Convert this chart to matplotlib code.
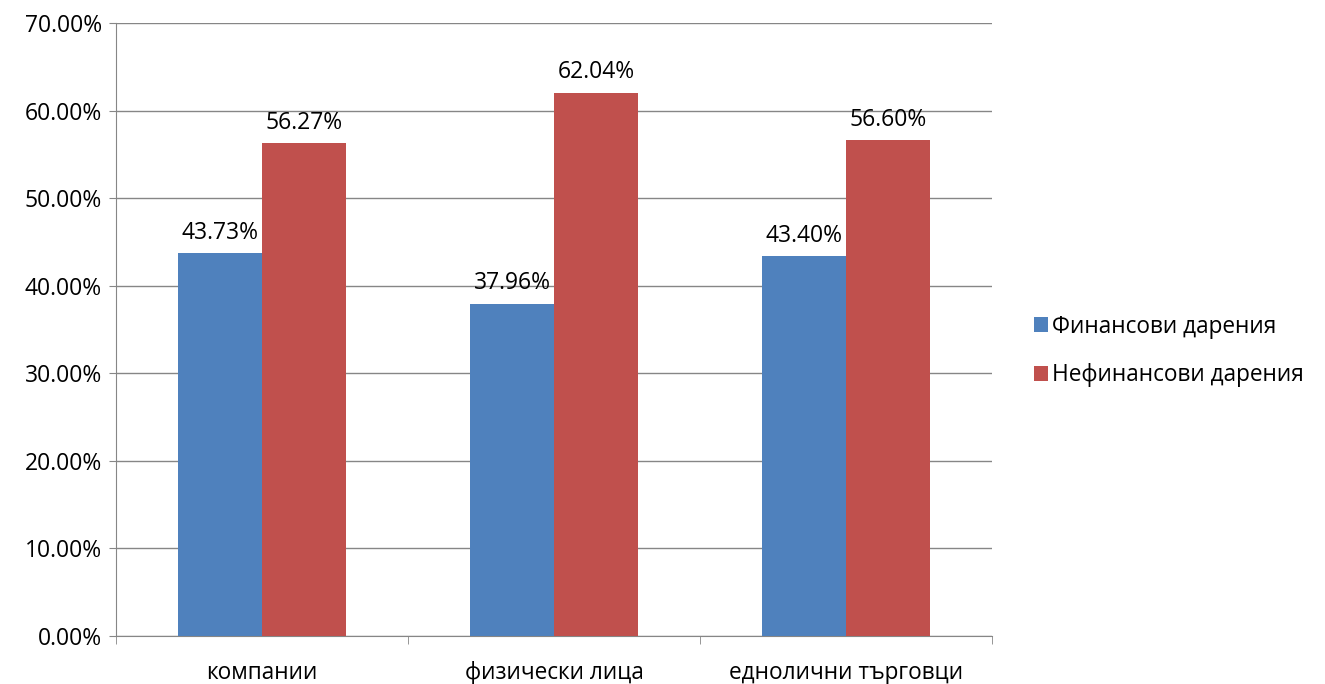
import matplotlib.pyplot as plt
import numpy as np

plt.rcParams['font.family'] = ['Open Sans', 'DejaVu Sans']

# данни
kategorii = ["компании", "физически лица", "еднолични търговци"]
finansovi = [43.73, 37.96, 43.40]
nefinansovi = [56.27, 62.04, 56.60]
serii = ["Финансови дарения", "Нефинансови дарения"]

fig = plt.figure(figsize=(13.25, 6.84), dpi=100)
ax = fig.add_axes([116/1325, 1-636/684, (992-116)/1325, (636-23)/684])

x = np.arange(len(kategorii))
w = 0.288
b1 = ax.bar(x - w/2, finansovi, w, color="#4F81BD", label=serii[0], zorder=3)
b2 = ax.bar(x + w/2, nefinansovi, w, color="#C0504D", label=serii[1], zorder=3)

for bars, vals in [(b1, finansovi), (b2, nefinansovi)]:
    for rect, v in zip(bars, vals):
        ax.annotate(f"{v:.2f}%", (rect.get_x() + rect.get_width()/2, v),
                    xytext=(0, 6), textcoords="offset points",
                    ha="center", va="bottom", fontsize=16.5)

ax.set_xlim(-0.5, 2.5)
ax.set_ylim(0, 70)
ax.set_yticks(np.arange(0, 71, 10))
ax.set_yticklabels([f"{t:.2f}%" for t in np.arange(0, 71, 10)], fontsize=16.5)
ax.set_xticks(x)
ax.set_xticklabels(kategorii, fontsize=16.3)
ax.tick_params(axis="x", length=0, pad=18)
ax.set_xticks([-0.5, 0.5, 1.5, 2.5], minor=True)
ax.tick_params(axis="x", which="minor", length=6, color="#868686", direction="out")
ax.tick_params(axis="y", length=5, color="#868686", direction="out", pad=5)

ax.grid(axis="y", color="#868686", linewidth=1, zorder=0)
for s in ["top", "right"]:
    ax.spines[s].set_visible(False)
for s in ["left", "bottom"]:
    ax.spines[s].set_color("#868686")

fig.legend(handles=[b1, b2], labels=serii, loc="center left",
           bbox_to_anchor=(1014/1325, 1-351/684), frameon=False,
           fontsize=16.3, handlelength=0.6, handleheight=0.6,
           handletextpad=0.2, labelspacing=1.1)

fig.savefig("out.png", dpi=100)
